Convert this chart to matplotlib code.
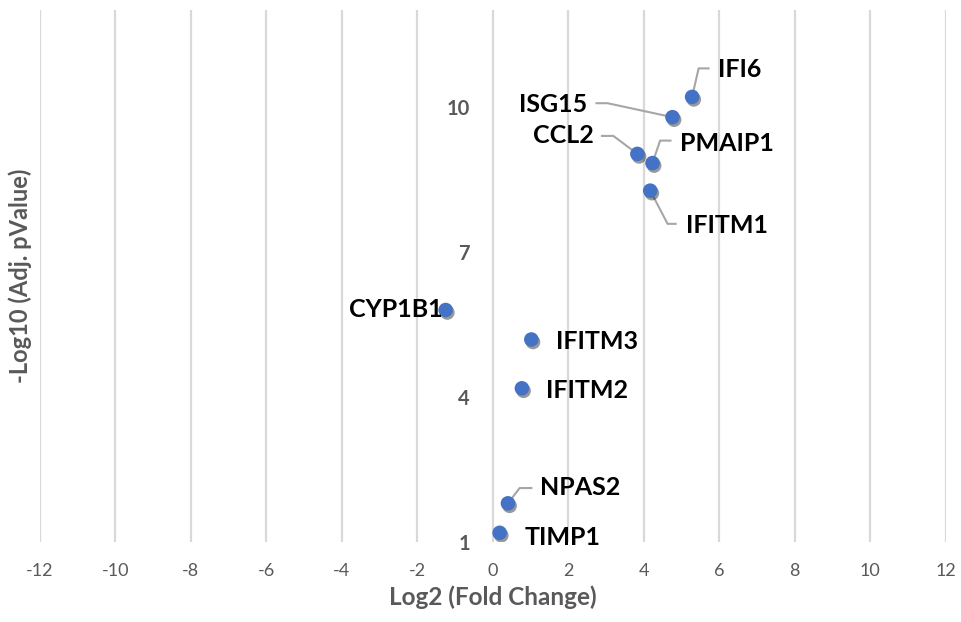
import matplotlib
matplotlib.use("Agg")
import matplotlib.pyplot as plt
import matplotlib.transforms as mtransforms
import matplotlib.patheffects as pe
from matplotlib.lines import Line2D

plt.rcParams["font.family"] = ["Lato", "DejaVu Sans"]

# data
genes = ["IFI6", "ISG15", "CCL2", "PMAIP1", "IFITM1", "CYP1B1",
         "IFITM3", "IFITM2", "NPAS2", "TIMP1"]
log2_fc = [5.28, 4.76, 3.83, 4.23, 4.17, -1.25, 1.02, 0.77, 0.40, 0.18]
neg_log10_p = [10.21, 9.79, 9.03, 8.84, 8.27, 5.80, 5.19, 4.18, 1.80, 1.19]

x_ticks = list(range(-12, 13, 2))
y_ticks = [1, 4, 7, 10]

# label placement (pixels from the point, y up) and leader elbows
label_pos = {
    "IFI6":   (25.5, 27, "left"),
    "ISG15":  (-85, 13, "right"),
    "CCL2":   (-44, 18, "right"),
    "PMAIP1": (28, 20, "left"),
    "IFITM1": (35.4, -35, "left"),
    "CYP1B1": (-3, 1, "right"),
    "IFITM3": (24.3, -2.4, "left"),
    "IFITM2": (23.7, -2.4, "left"),
    "NPAS2":  (31.7, 15.8, "left"),
    "TIMP1":  (25, -5, "left"),
}
leaders = {
    "IFI6":   [(0, 0), (6.5, 28.5), (16.5, 28.5)],
    "ISG15":  [(-76, 14), (-65, 14), (0, 0)],
    "CCL2":   [(-35.4, 18), (-24, 18), (0, 0)],
    "PMAIP1": [(0, 0), (7.6, 22.5), (18, 22.5)],
    "IFITM1": [(0, 0), (17.4, -33.2), (25.4, -33.2)],
    "NPAS2":  [(0, 0), (11.7, 15.3), (23.4, 15.3)],
}

GRID = "#D9D9D9"
TXT = "#595959"
BLUE = "#4472C4"

fig = plt.figure(figsize=(9.61, 6.22), dpi=100)
ax = fig.add_axes([0.0416, 0.1286, 0.9425, 0.8547])
# y axis crosses at x=0 (moving the spine resets tick settings, so do it first)
ax.spines["left"].set_position(("data", 0))
for s in ax.spines.values():
    s.set_visible(False)
ax.set_xlim(-12, 12)
ax.set_ylim(1, 12)

ax.set_xticks(x_ticks)
ax.set_xticklabels([str(t) for t in x_ticks], fontsize=13, color=TXT)
ax.set_yticks(y_ticks)
ax.set_yticklabels([str(t) for t in y_ticks], fontsize=14.5, color=TXT,
                   fontweight="bold")
ax.tick_params(axis="both", length=0)
ax.tick_params(axis="x", pad=15)
ax.tick_params(axis="y", pad=16.5)
ax.xaxis.grid(True, color=GRID, lw=1.6)
ax.set_axisbelow(True)

ax.set_xlabel("Log2 (Fold Change)", fontsize=17.5, fontweight="bold",
              color=TXT, labelpad=5)
ax.text(-0.0213, 0.5, "-Log10 (Adj. pValue)", transform=ax.transAxes,
        rotation=90, ha="center", va="center", fontsize=17,
        fontweight="bold", color=TXT)

ax.plot(log2_fc, neg_log10_p, "o", ms=10.5, color=BLUE, mew=0, zorder=4,
        path_effects=[pe.SimplePatchShadow(offset=(1.2, -1.8),
                                           shadow_rgbFace="k", alpha=0.4),
                      pe.Normal()])

for g, x, y in zip(genes, log2_fc, neg_log10_p):
    dx, dy, ha = label_pos[g]
    ax.annotate(g, (x, y), xytext=(dx, dy), textcoords="offset pixels",
                ha=ha, va="center", fontsize=18, fontweight="bold",
                color="black", zorder=5)
    if g in leaders:
        tr = mtransforms.Affine2D() + mtransforms.ScaledTranslation(x, y, ax.transData)
        xs = [p[0] for p in leaders[g]]
        ys = [p[1] for p in leaders[g]]
        ax.add_line(Line2D(xs, ys, transform=tr, color="#A6A6A6", lw=1.5,
                           zorder=3))

fig.savefig("out.png", dpi=100)
